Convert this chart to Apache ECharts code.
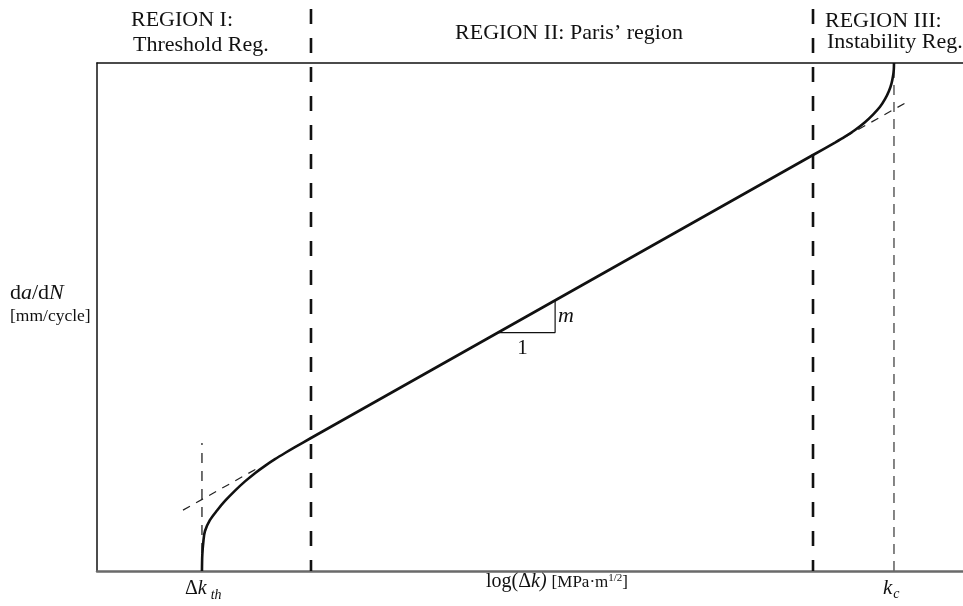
<!DOCTYPE html>
<html><head><meta charset="utf-8">
<script src="https://cdn.jsdelivr.net/npm/echarts@6/dist/echarts.min.js"></script>
<style>html,body{margin:0;padding:0;background:#fff}#c{width:963px;height:606px}</style>
</head><body><div id="c"></div>
<script>
// Schematic crack-growth curve (normalised log units, 0..100 on both axes)
const curveX = [12.12,12.16,12.30,12.47,13.05,13.86,14.78,15.94,17.09,18.24,19.40,20.55,21.71,22.86,24.71,82.68,85.22,86.37,87.53,88.68,89.61,90.42,90.99,91.45,91.74,91.92,92.01,92.03];
const curveY = [0,3.15,6.10,7.87,10.05,11.91,13.78,15.82,17.64,19.26,20.70,22.01,23.23,24.39,26.18,81.89,84.33,85.49,86.81,88.35,89.84,91.38,92.87,94.49,95.94,97.44,98.72,100];
const leftExtX = [9.93,18.5], leftExtY = [11.98,20.2];
const rightExtX = [86.4,93.42], rightExtY = [85.46,92.21];
const triX = [46.3,52.9,52.9], triY = [46.93,46.93,53.27];
const dkth = 12.12, dkthTop = 25.2;
const kc = 92.03, kcTop = 100;
const boundaries = [24.71, 82.68], boundaryTop = 111.5;
const regionLabels = [
  {lines:['REGION I:','Threshold Reg.']},
  {lines:['REGION II: Paris\u2019 region']},
  {lines:['REGION III:','Instability Reg.']}
];

const zip = (xs, ys) => xs.map((x, i) => [x, ys[i]]);
const FONT = '"Liberation Serif","Times New Roman",serif';
const chart = echarts.init(document.getElementById('c'), null, {renderer:'canvas'});

const lineS = (data, style, extra) => Object.assign({
  type:'line', data, symbol:'none', showSymbol:false, silent:true,
  lineStyle:style, animation:false
}, extra || {});

const series = [
  lineS(zip(curveX, curveY), {color:'#111', width:2.6}, {smooth:0.3, z:5}),
  lineS(zip(leftExtX, leftExtY), {color:'#222', width:1.2, type:[8,7]}),
  lineS(zip(rightExtX, rightExtY), {color:'#222', width:1.2, type:[8,7]}),
  lineS([[dkth,0],[dkth,dkthTop]], {color:'#222', width:1.3, type:[10,8]}),
  lineS([[kc,0],[kc,kcTop]], {color:'#666', width:1.6, type:[10,7]}),
  lineS(zip(triX, triY), {color:'#111', width:1.2})
];
boundaries.forEach(b => series.push(
  lineS([[b,0],[b,boundaryTop]], {color:'#111', width:2.6, type:[15,14], dashOffset:4}, {clip:false})
));

chart.setOption({
  animation:false,
  backgroundColor:'#fff',
  grid:{left:97, right:0, top:63, bottom:35, containLabel:false},
  xAxis:[
    {type:'value', min:0, max:100, position:'bottom',
     axisLine:{show:true, onZero:false, lineStyle:{color:'#6a6a6a', width:2.5}},
     axisTick:{show:false}, axisLabel:{show:false}, splitLine:{show:false}},
    {type:'value', min:0, max:100, position:'top',
     axisLine:{show:true, onZero:false, lineStyle:{color:'#111', width:1.5}},
     axisTick:{show:false}, axisLabel:{show:false}, splitLine:{show:false}}
  ],
  yAxis:{type:'value', min:0, max:100,
     axisLine:{show:true, onZero:false, lineStyle:{color:'#111', width:1.5}},
     axisTick:{show:false}, axisLabel:{show:false}, splitLine:{show:false}},
  series
});

// ---- text labels ----
const P = (x, y) => chart.convertToPixel({xAxisIndex:0, yAxisIndex:0}, [x, y]);
const mctx = document.createElement('canvas').getContext('2d');
const fontStr = (size, italic) => (italic ? 'italic ' : '') + size + 'px ' + FONT;
const measure = (t, size, italic) => { mctx.font = fontStr(size, italic); return mctx.measureText(t).width; };
const elements = [];
function txt(t, x, baseline, size, opts) {
  opts = opts || {};
  elements.push({type:'text', silent:true, z:100, style:{
    text:t, x:x, y:baseline - 0.305*size, fill:opts.fill || '#111',
    font:fontStr(size, opts.italic), align:opts.align || 'left', verticalAlign:'middle'
  }});
}
function runs(x, baseline, pieces) {
  let cx = x;
  pieces.forEach(p => {
    txt(p.t, cx, baseline + (p.dy || 0), p.size, {italic:p.italic});
    cx += measure(p.t, p.size, p.italic) + (p.gap || 0);
  });
}
// region headers
txt(regionLabels[0].lines[0], 131, 27, 22);
txt(regionLabels[0].lines[1], 133, 52, 22);
txt(regionLabels[1].lines[0], 569, 40, 22, {align:'center'});
txt(regionLabels[2].lines[0], 825, 28, 22);
txt(regionLabels[2].lines[1], 827, 49, 22);
// y axis name
runs(10, 300, [{t:'d', size:22},{t:'a', size:22, italic:true},{t:'/d', size:22},{t:'N', size:22, italic:true}]);
txt('[mm/cycle]', 10, 322, 17.5);
// x axis name
runs(486, 588, [{t:'log(\u0394', size:20},{t:'k)', size:20, italic:true, gap:5},{t:'[MPa\u00b7m', size:17},{t:'1/2', size:11, dy:-7},{t:']', size:17}]);
// tick labels
const pth = P(dkth, 0);
runs(pth[0] - 17, 595, [{t:'\u0394', size:20},{t:'k', size:20, italic:true, gap:4},{t:'th', size:14, italic:true, dy:5}]);
const pkc = P(kc, 0);
runs(pkc[0] - 11, 595, [{t:'k', size:21, italic:true, gap:1},{t:'c', size:14, italic:true, dy:4}]);
// slope triangle labels
const pr = P(triX[1], triY[1]), ptop = P(triX[2], triY[2]), pl = P(triX[0], triY[0]);
txt('m', pr[0] + 3, (pr[1] + ptop[1]) / 2 + 6, 22, {italic:true});
txt('1', (pl[0] + pr[0]) / 2 - 4, pr[1] + 22, 21, {align:'center'});

chart.setOption({graphic:elements});
</script></body></html>
